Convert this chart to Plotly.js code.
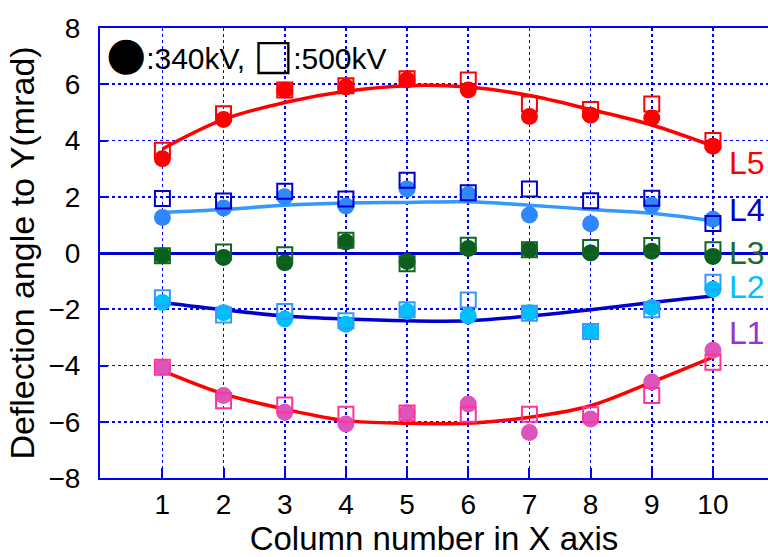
<!DOCTYPE html>
<html>
<head>
<meta charset="utf-8">
<script src="https://cdn.plot.ly/plotly-3.0.1.min.js"></script>
<style>html,body{margin:0;padding:0;background:#fff;}#chart{width:768px;height:557px;}</style>
</head>
<body>
<div id="chart"></div>
<script>
const columns = [1, 2, 3, 4, 5, 6, 7, 8, 9, 10];

const L5_340 = [3.35, 4.75, 5.8, 5.9, 6.15, 5.8, 4.85, 4.9, 4.8, 3.8];
const L5_500 = [3.65, 4.95, 5.8, 5.95, 6.2, 6.15, 5.3, 5.1, 5.3, 4.0];
const L5_fit = [3.7, 4.75, 5.35, 5.75, 5.95, 5.9, 5.6, 5.1, 4.55, 3.8];

const L4_340 = [1.26, 1.6, 2.0, 1.67, 2.28, 2.08, 1.35, 1.04, 1.7, 1.2];
const L4_500 = [1.94, 1.85, 2.2, 1.92, 2.59, 2.14, 2.28, 1.86, 1.95, 1.05];
const L4_fit = [1.45, 1.55, 1.7, 1.78, 1.8, 1.82, 1.7, 1.55, 1.41, 1.14];

const L3_340 = [-0.1, -0.16, -0.35, 0.39, -0.3, 0.16, 0.12, 0.0, 0.06, -0.12];
const L3_500 = [-0.1, 0.04, -0.06, 0.45, -0.38, 0.28, 0.12, 0.2, 0.27, 0.12];

const L2_340 = [-1.76, -2.12, -2.35, -2.53, -2.08, -2.24, -2.12, -2.79, -1.94, -1.29];
const L2_500 = [-1.59, -2.2, -2.08, -2.41, -2.02, -1.67, -2.14, -2.79, -2.02, -1.04];
const L2_fit = [-1.76, -2.02, -2.24, -2.35, -2.41, -2.41, -2.24, -2.02, -1.76, -1.53];

const L1_340 = [-4.06, -5.07, -5.66, -6.08, -5.69, -5.37, -6.38, -5.9, -4.59, -3.46];
const L1_500 = [-4.06, -5.25, -5.4, -5.73, -5.69, -5.73, -5.73, -5.75, -5.07, -3.88];
const L1_fit = [-4.18, -5.01, -5.55, -5.96, -6.05, -6.05, -5.84, -5.43, -4.59, -3.7];

const lineLabels = ["L5", "L4", "L3", "L2", "L1"];
const labelY = [3.2, 1.54, 0, -1.2, -2.83];

const groups = [
  {fit: L5_fit, c340: L5_340, c500: L5_500, fitColor: '#ff0000', circ: '#ff0000', sq: '#ff0000', label: '#ff0000'},
  {fit: L4_fit, c340: L4_340, c500: L4_500, fitColor: '#3399ff', circ: '#2f87ff', sq: '#0000cc', label: '#0000cc'},
  {fit: null,   c340: L3_340, c500: L3_500, fitColor: '#0000cc', circ: '#0b5e1e', sq: '#116622', label: '#1a6b2a'},
  {fit: L2_fit, c340: L2_340, c500: L2_500, fitColor: '#0000cc', circ: '#00c0ff', sq: '#3399ff', label: '#00bfff'},
  {fit: L1_fit, c340: L1_340, c500: L1_500, fitColor: '#ff0000', circ: '#dd55bb', sq: '#ff3399', label: '#9933cc'}
];

const traces = [];
groups.forEach(g => {
  if (g.fit) traces.push({x: columns, y: g.fit, type: 'scatter', mode: 'lines',
    line: {color: g.fitColor, width: 3.5, shape: 'spline'}, showlegend: false, hoverinfo: 'skip'});
});
groups.forEach(g => {
  traces.push({x: columns, y: g.c340, type: 'scatter', mode: 'markers',
    marker: {symbol: 'circle', size: 17, color: g.circ, line: {width: 0}}, showlegend: false});
});
groups.forEach(g => {
  traces.push({x: columns, y: g.c500, type: 'scatter', mode: 'markers',
    marker: {symbol: 'square-open', size: 15, color: g.sq, line: {width: 2, color: g.sq}}, showlegend: false});
});

const FONT = 'Liberation Sans, Arial, sans-serif';
const annotations = lineLabels.map((t, i) => ({
  x: 10.23, y: labelY[i], xref: 'x', yref: 'y', text: t, showarrow: false,
  xanchor: 'left', yanchor: 'middle', font: {family: FONT, size: 32, color: groups[i].label}
}));
annotations.push({
  xref: 'paper', yref: 'paper', x: 0.006, y: 0.944, xanchor: 'left', yanchor: 'middle', showarrow: false,
  text: '<span style="font-family:DejaVu Sans;font-size:46px">●</span>:340kV, <span style="font-family:DejaVu Sans;font-size:42px">□</span>:500kV',
  font: {family: FONT, size: 30, color: '#000'}
});

const layout = {
  width: 768, height: 557,
  margin: {l: 100, r: 0, t: 28, b: 79},
  paper_bgcolor: '#fff', plot_bgcolor: '#fff',
  showlegend: false,
  font: {family: FONT, color: '#000'},
  xaxis: {
    range: [-0.02, 10.9], tickvals: columns, ticktext: columns.map(String),
    ticks: 'inside', ticklen: 10, tickwidth: 2, tickcolor: '#0000ff',
    showline: true, linecolor: '#0000ff', linewidth: 2, mirror: true,
    showgrid: true, gridcolor: '#0000ff', gridwidth: 1.6, griddash: 'dot',
    zeroline: false,
    tickfont: {family: FONT, size: 28, color: '#000'},
    title: {text: 'Column number in X axis', font: {family: FONT, size: 33, color: '#000'}, standoff: 10}
  },
  yaxis: {
    range: [-8, 8], dtick: 2, tick0: 0,
    ticks: 'inside', ticklen: 8, tickwidth: 2, tickcolor: '#0000ff',
    showline: true, linecolor: '#0000ff', linewidth: 2, mirror: false,
    showgrid: true, gridcolor: '#0000ff', gridwidth: 1.6, griddash: 'dot',
    zeroline: true, zerolinecolor: '#0000cc', zerolinewidth: 3,
    ticklabelstandoff: 12,
    tickfont: {family: FONT, size: 28, color: '#000'},
    title: {text: 'Deflection angle to Y(mrad)', font: {family: FONT, size: 34, color: '#000'}, standoff: 4}
  },
  annotations: annotations
};

Plotly.newPlot('chart', traces, layout, {displayModeBar: false, staticPlot: true});
</script>
</body>
</html>
